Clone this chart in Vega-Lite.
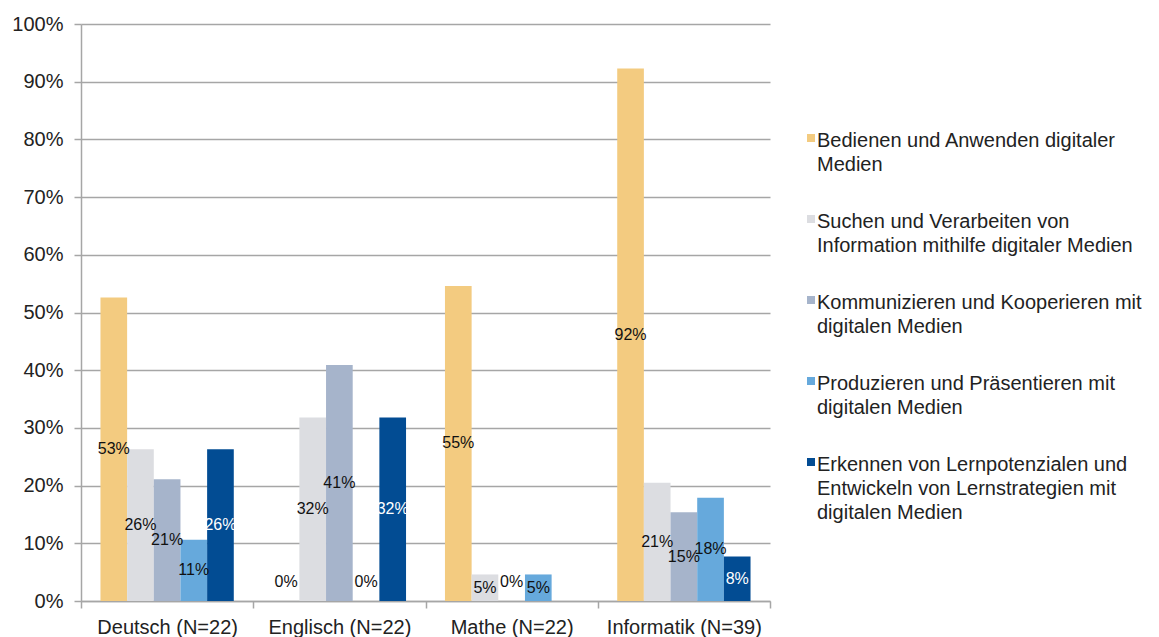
{
  "$schema": "https://vega.github.io/schema/vega-lite/v6.json",
  "width": 689,
  "height": 577,
  "autosize": {"type": "none"},
  "padding": {"left": 81, "top": 24, "right": 389, "bottom": 36},
  "background": "white",
  "config": {
    "font": "Liberation Sans",
    "view": {"stroke": null},
    "style": {"guide-label": {"lineHeight": 24, "dy": -7}}
  },
  "data": {
    "values": [
      {"Fach": "Deutsch (N=22)", "Kompetenz": "Bedienen und Anwenden digitaler Medien", "Wert": 0.526},
      {"Fach": "Deutsch (N=22)", "Kompetenz": "Suchen und Verarbeiten von Information mithilfe digitaler Medien", "Wert": 0.263},
      {"Fach": "Deutsch (N=22)", "Kompetenz": "Kommunizieren und Kooperieren mit digitalen Medien", "Wert": 0.211},
      {"Fach": "Deutsch (N=22)", "Kompetenz": "Produzieren und Präsentieren mit digitalen Medien", "Wert": 0.106},
      {"Fach": "Deutsch (N=22)", "Kompetenz": "Erkennen von Lernpotenzialen und Entwickeln von Lernstrategien mit digitalen Medien", "Wert": 0.263},
      {"Fach": "Englisch (N=22)", "Kompetenz": "Bedienen und Anwenden digitaler Medien", "Wert": 0},
      {"Fach": "Englisch (N=22)", "Kompetenz": "Suchen und Verarbeiten von Information mithilfe digitaler Medien", "Wert": 0.318},
      {"Fach": "Englisch (N=22)", "Kompetenz": "Kommunizieren und Kooperieren mit digitalen Medien", "Wert": 0.409},
      {"Fach": "Englisch (N=22)", "Kompetenz": "Produzieren und Präsentieren mit digitalen Medien", "Wert": 0},
      {"Fach": "Englisch (N=22)", "Kompetenz": "Erkennen von Lernpotenzialen und Entwickeln von Lernstrategien mit digitalen Medien", "Wert": 0.318},
      {"Fach": "Mathe (N=22)", "Kompetenz": "Bedienen und Anwenden digitaler Medien", "Wert": 0.546},
      {"Fach": "Mathe (N=22)", "Kompetenz": "Suchen und Verarbeiten von Information mithilfe digitaler Medien", "Wert": 0.046},
      {"Fach": "Mathe (N=22)", "Kompetenz": "Kommunizieren und Kooperieren mit digitalen Medien", "Wert": 0},
      {"Fach": "Mathe (N=22)", "Kompetenz": "Produzieren und Präsentieren mit digitalen Medien", "Wert": 0.046},
      {"Fach": "Informatik (N=39)", "Kompetenz": "Bedienen und Anwenden digitaler Medien", "Wert": 0.923},
      {"Fach": "Informatik (N=39)", "Kompetenz": "Suchen und Verarbeiten von Information mithilfe digitaler Medien", "Wert": 0.205},
      {"Fach": "Informatik (N=39)", "Kompetenz": "Kommunizieren und Kooperieren mit digitalen Medien", "Wert": 0.154},
      {"Fach": "Informatik (N=39)", "Kompetenz": "Produzieren und Präsentieren mit digitalen Medien", "Wert": 0.179},
      {"Fach": "Informatik (N=39)", "Kompetenz": "Erkennen von Lernpotenzialen und Entwickeln von Lernstrategien mit digitalen Medien", "Wert": 0.077}
    ]
  },
  "encoding": {
    "x": {
      "field": "Fach",
      "type": "nominal",
      "sort": ["Deutsch (N=22)", "Englisch (N=22)", "Mathe (N=22)", "Informatik (N=39)"],
      "scale": {"paddingInner": 0, "paddingOuter": 0},
      "axis": {
        "title": null,
        "labelAngle": 0,
        "tickBand": "extent",
        "tickSize": 7,
        "tickColor": "#A6A6A6",
        "domainColor": "#A6A6A6",
        "domainWidth": 1.5,
        "tickWidth": 1.5,
        "labelFontSize": 20,
        "labelColor": "#222222",
        "labelPadding": 16,
        "grid": false
      }
    },
    "xOffset": {
      "field": "Kompetenz",
      "type": "nominal",
      "sort": [
        "Bedienen und Anwenden digitaler Medien",
        "Suchen und Verarbeiten von Information mithilfe digitaler Medien",
        "Kommunizieren und Kooperieren mit digitalen Medien",
        "Produzieren und Präsentieren mit digitalen Medien",
        "Erkennen von Lernpotenzialen und Entwickeln von Lernstrategien mit digitalen Medien"
      ],
      "scale": {"paddingInner": 0, "paddingOuter": 0.73}
    }
  },
  "layer": [
    {
      "mark": {"type": "bar"},
      "encoding": {
        "y": {
          "field": "Wert",
          "type": "quantitative",
          "scale": {"domain": [0, 1], "nice": false},
          "axis": {
            "title": null,
            "format": ".0%",
            "values": [0, 0.1, 0.2, 0.3, 0.4, 0.5, 0.6, 0.7, 0.8, 0.9, 1],
            "grid": true,
            "gridColor": "#A6A6A6",
            "gridWidth": 1.5,
            "domainColor": "#A6A6A6",
            "domainWidth": 1.5,
            "tickColor": "#A6A6A6",
            "tickWidth": 1.5,
            "tickSize": 7,
            "labelFontSize": 20,
            "labelColor": "#222222",
            "labelPadding": 11,
            "labelOffset": 7
          }
        },
        "color": {
          "field": "Kompetenz",
          "type": "nominal",
          "scale": {
            "domain": [
              "Bedienen und Anwenden digitaler Medien",
              "Suchen und Verarbeiten von Information mithilfe digitaler Medien",
              "Kommunizieren und Kooperieren mit digitalen Medien",
              "Produzieren und Präsentieren mit digitalen Medien",
              "Erkennen von Lernpotenzialen und Entwickeln von Lernstrategien mit digitalen Medien"
            ],
            "range": ["#F3CB80", "#DCDDE1", "#A6B4CB", "#66A9DC", "#024C93"]
          },
          "legend": {
            "orient": "none",
            "legendX": 720,
            "legendY": 104,
            "padding": 0,
            "title": null,
            "symbolType": "square",
            "symbolSize": 64,
            "symbolStrokeWidth": 0,
            "labelFontSize": 20,
            "labelColor": "#222222",
            "labelOffset": -4,
            "labelLimit": 400,
            "labelBaseline": "top",
            "rowPadding": 34,
            "labelExpr": "datum.label == 'Bedienen und Anwenden digitaler Medien' ? ['Bedienen und Anwenden digitaler', 'Medien'] : datum.label == 'Suchen und Verarbeiten von Information mithilfe digitaler Medien' ? ['Suchen und Verarbeiten von', 'Information mithilfe digitaler Medien'] : datum.label == 'Kommunizieren und Kooperieren mit digitalen Medien' ? ['Kommunizieren und Kooperieren mit', 'digitalen Medien'] : datum.label == 'Produzieren und Präsentieren mit digitalen Medien' ? ['Produzieren und Präsentieren mit', 'digitalen Medien'] : ['Erkennen von Lernpotenzialen und', 'Entwickeln von Lernstrategien mit', 'digitalen Medien']"
          }
        }
      }
    },
    {
      "transform": [{"filter": "datum.Wert > 0"}],
      "mark": {"type": "text", "fontSize": 16, "baseline": "middle", "align": "center"},
      "encoding": {
        "y": {
          "field": "Wert",
          "type": "quantitative",
          "scale": {"domain": [0, 2], "nice": false},
          "axis": null
        },
        "text": {"field": "Wert", "type": "quantitative", "format": ".0%"},
        "color": {
          "condition": {
            "test": "datum.Kompetenz == 'Erkennen von Lernpotenzialen und Entwickeln von Lernstrategien mit digitalen Medien'",
            "value": "#FFFFFF"
          },
          "value": "#111111"
        }
      }
    },
    {
      "transform": [{"filter": "datum.Wert == 0"}],
      "mark": {"type": "text", "fontSize": 16, "baseline": "middle", "align": "center", "dy": -19, "color": "#111111"},
      "encoding": {
        "y": {
          "field": "Wert",
          "type": "quantitative",
          "scale": {"domain": [0, 2], "nice": false},
          "axis": null
        },
        "text": {"field": "Wert", "type": "quantitative", "format": ".0%"}
      }
    }
  ],
  "resolve": {"scale": {"y": "independent"}}
}
